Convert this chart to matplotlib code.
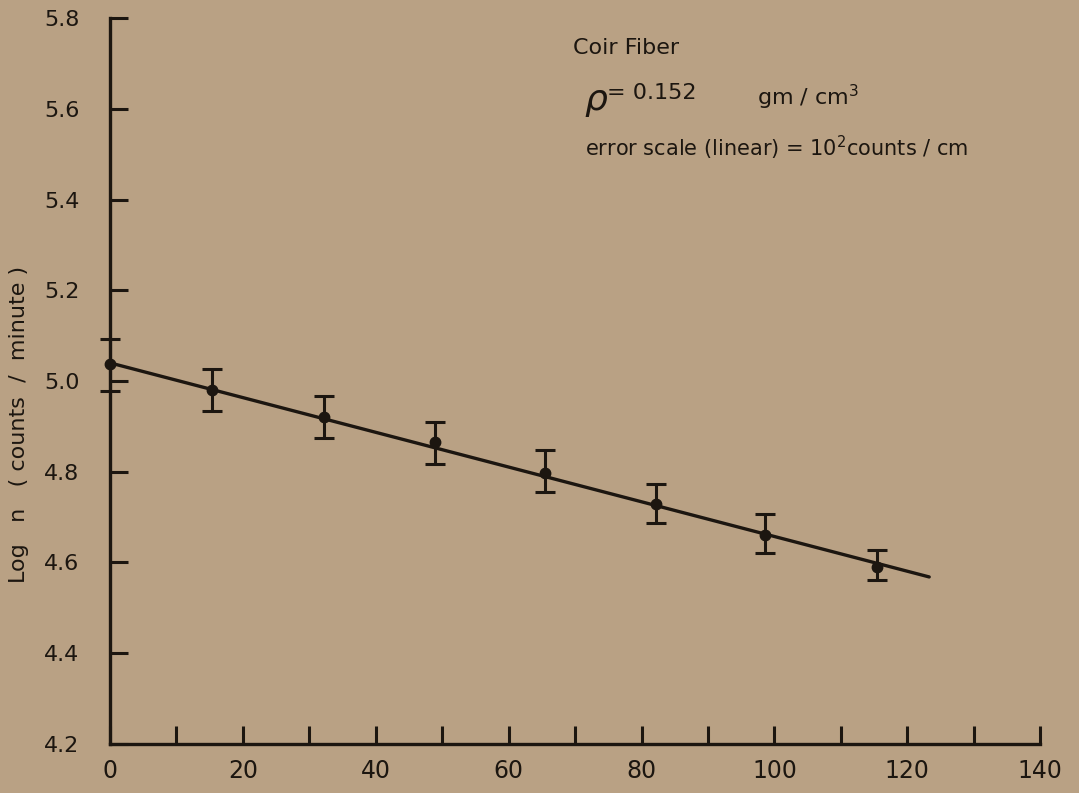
import numpy as np
import matplotlib
matplotlib.use('Agg')
import matplotlib.pyplot as plt

# Datos
distancia = [0, 15.4, 32.2, 48.9, 65.4, 82.2, 98.6, 115.5]
log_n = [5.038, 4.981, 4.920, 4.865, 4.798, 4.729, 4.661, 4.589]
err_sup = [0.054, 0.046, 0.048, 0.044, 0.051, 0.043, 0.045, 0.039]
err_inf = [0.060, 0.048, 0.046, 0.048, 0.043, 0.042, 0.040, 0.028]

# Recta ajustada (extremos)
recta_x = [0, 123.3]
recta_y = [5.040, 4.568]

x_ticks = list(range(0, 141, 10))
x_labels = ['0', '', '20', '', '40', '', '60', '', '80', '', '100', '', '120', '', '140']
y_ticks = [4.2, 4.4, 4.6, 4.8, 5.0, 5.2, 5.4, 5.6, 5.8]
y_labels = ['4.2', '4.4', '4.6', '4.8', '5.0', '5.2', '5.4', '5.6', '5.8']

fondo = '#b9a184'
tinta = '#1c1610'

plt.rcParams['font.family'] = ['DejaVu Sans']

fig = plt.figure(figsize=(10.79, 7.93), dpi=100, facecolor=fondo)
ax = fig.add_axes([0.102, 0.062, 0.862, 0.915])
ax.set_facecolor(fondo)

ax.plot(recta_x, recta_y, color=tinta, lw=2.4, solid_capstyle='round')
ax.errorbar(distancia, log_n, yerr=[err_inf, err_sup], fmt='o', color=tinta,
            ms=7.5, elinewidth=2.2, capsize=7, capthick=2.2, clip_on=False, zorder=3)

ax.set_xlim(0, 140)
ax.set_ylim(4.2, 5.8)
for s in ['top', 'right']:
    ax.spines[s].set_visible(False)
for s in ['left', 'bottom']:
    ax.spines[s].set_linewidth(2.4)
    ax.spines[s].set_color(tinta)

ax.set_xticks(x_ticks)
ax.set_xticklabels(x_labels)
ax.set_yticks(y_ticks)
ax.set_yticklabels(y_labels)
ax.tick_params(axis='x', direction='in', length=13, width=2.2, colors=tinta,
               labelsize=17, pad=11)
ax.tick_params(axis='y', direction='in', length=13, width=2.2, colors=tinta,
               labelsize=16, pad=22)

ax.set_ylabel('Log   n   ( counts  /  minute )', fontsize=16, color=tinta)
ax.yaxis.set_label_coords(-0.087, 0.44)

ax.text(69.7, 5.734, 'Coir Fiber', fontsize=16, color=tinta, ha='left', va='center')
ax.text(71.3, 5.615, r'$\rho$', fontsize=26, color=tinta, ha='left', va='center')
ax.text(74.8, 5.636, '= 0.152', fontsize=16, color=tinta, ha='left', va='center')
ax.text(97.4, 5.625, r'gm / cm$^3$', fontsize=16, color=tinta, ha='left', va='center')
ax.text(71.5, 5.513, r'error scale (linear) = 10$^2$counts / cm', fontsize=15,
        color=tinta, ha='left', va='center')

fig.savefig('out.png', dpi=100, facecolor=fondo)
